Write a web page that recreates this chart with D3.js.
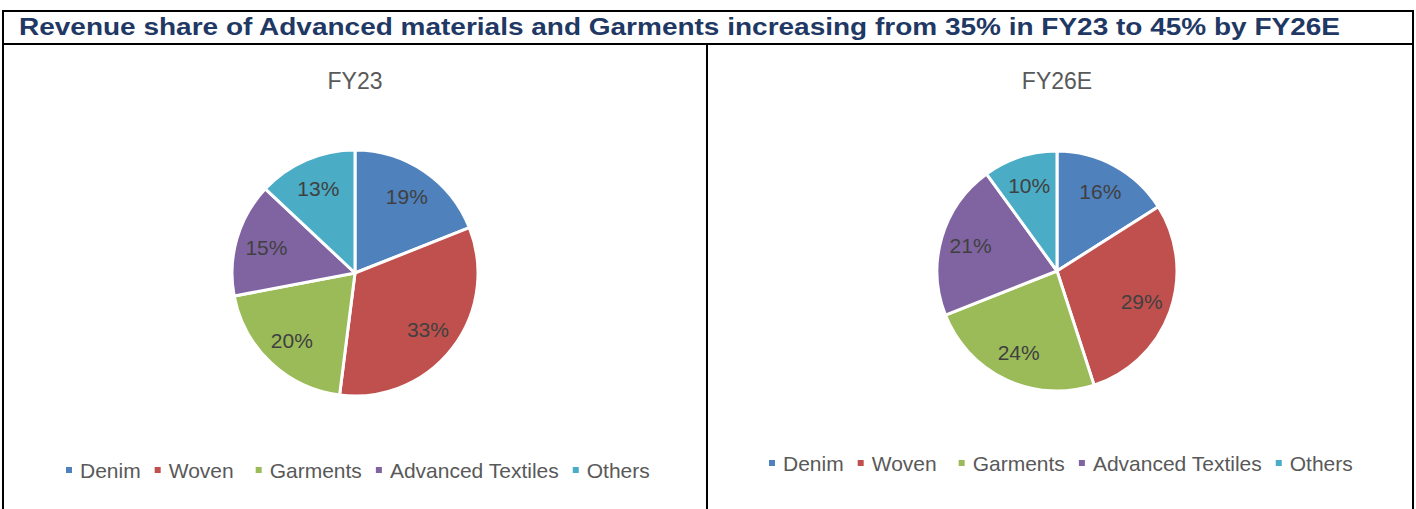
<!DOCTYPE html>
<html><head><meta charset="utf-8">
<script src="https://cdn.jsdelivr.net/npm/d3@7"></script>
<style>body{margin:0;background:#fff}svg{display:block}</style>
</head><body>
<script>
const categories = ["Denim","Woven","Garments","Advanced Textiles","Others"];
const fy23Values = [19,33,20,15,13];
const fy26Values = [16,29,24,21,10];
const panelTitles = ["FY23","FY26E"];
const colors = ["#4F81BD","#C0504D","#9BBB59","#8064A2","#4BACC6"];
const mainTitle = "Revenue share of Advanced materials and Garments increasing from 35% in FY23 to 45% by FY26E";

const W=1416,H=509;
const FONT="Liberation Sans, Arial, sans-serif";
const svg=d3.select("body").append("svg").attr("width",W).attr("height",H);
svg.append("rect").attr("width",W).attr("height",H).attr("fill","#fff");

// frame
const fr=svg.append("g").attr("stroke","#000").attr("stroke-width",2).attr("fill","none");
fr.append("line").attr("x1",3).attr("x2",1413).attr("y1",11).attr("y2",11);
fr.append("line").attr("x1",3).attr("x2",1413).attr("y1",44).attr("y2",44);
fr.append("line").attr("x1",3).attr("x2",3).attr("y1",10).attr("y2",H+2);
fr.append("line").attr("x1",1413).attr("x2",1413).attr("y1",10).attr("y2",H+2);
fr.append("line").attr("x1",707).attr("x2",707).attr("y1",44).attr("y2",H+2);

svg.append("text").attr("x",19).attr("y",35).text(mainTitle)
  .attr("font-family",FONT).attr("font-weight","bold")
  .attr("font-size",23).attr("fill","#1F3864")
  .attr("textLength",1321).attr("lengthAdjust","spacingAndGlyphs");

const panels=[
  {vals:fy23Values,title:panelTitles[0],cx:355,cy:273,r:123,legY:478,legX:66},
  {vals:fy26Values,title:panelTitles[1],cx:1057,cy:271,r:120,legY:471,legX:769}
];
const pie=d3.pie().sort(null).value(d=>d);
panels.forEach(p=>{
  const g=svg.append("g");
  g.append("text").attr("x",p.cx).attr("y",89).attr("text-anchor","middle")
    .attr("font-family",FONT).attr("font-size",23)
    .attr("fill","#595959").text(p.title);
  const arc=d3.arc().innerRadius(0).outerRadius(p.r);
  const lab=d3.arc().innerRadius(p.r*0.75).outerRadius(p.r*0.75);
  const pg=g.append("g").attr("transform",`translate(${p.cx},${p.cy})`);
  const arcs=pie(p.vals);
  pg.selectAll("path").data(arcs).join("path").attr("d",arc)
    .attr("fill",(d,i)=>colors[i]).attr("stroke","#fff").attr("stroke-width",3).attr("stroke-linejoin","round");
  pg.selectAll("text").data(arcs).join("text")
    .attr("transform",d=>`translate(${lab.centroid(d)})`)
    .attr("text-anchor","middle").attr("dy","0.35em")
    .attr("font-family",FONT).attr("font-size",21)
    .attr("fill","#404040").text(d=>d.data+"%");
  // legend
  const lg=g.append("g");
  let x=p.legX;
  categories.forEach((c,i)=>{
    lg.append("rect").attr("x",x).attr("y",p.legY-11).attr("width",6).attr("height",6).attr("fill",colors[i]);
    const t=lg.append("text").attr("x",x+14).attr("y",p.legY)
      .attr("font-family",FONT).attr("font-size",21)
      .attr("fill","#595959").text(c);
    const w=t.node().getComputedTextLength();
    x+=14+w+(i===1?22:14);
  });
});
</script>
</body></html>
